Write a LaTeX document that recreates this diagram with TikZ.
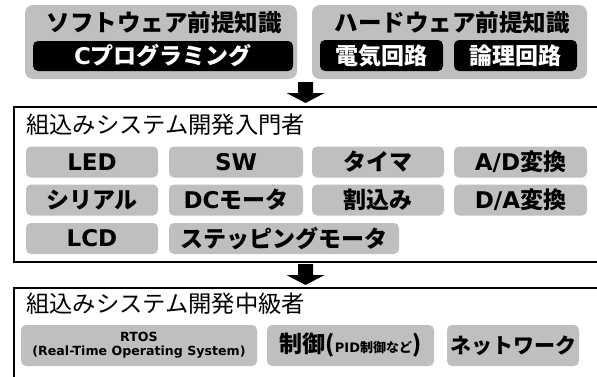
\documentclass[tikz,border=0pt]{standalone}
\usepackage{fontspec}
\newfontfamily\jp{Noto Sans CJK JP}
\newfontfamily\lat{DejaVu Sans}
\definecolor{gfill}{RGB}{191,191,191}
\tikzset{
  bigbox/.style={fill=gfill, rounded corners=8pt, inner sep=0pt},
  hdr/.style={inner sep=0pt, font=\jp\bfseries\fontsize{23.5}{26}\selectfont},
  blk/.style={fill=black, rounded corners=5pt, inner sep=0pt, text=white, font=\jp\bfseries\fontsize{23}{26}\selectfont},
  gb/.style={fill=gfill, rounded corners=5pt, inner sep=0pt, font=\jp\bfseries\fontsize{23}{26}\selectfont},
  frm/.style={draw=black, line width=2pt, inner sep=0pt},
  ttl/.style={anchor=west, inner sep=0pt, font=\jp\fontsize{23.3}{26}\selectfont},
}
\newcommand{\LT}[1]{{\lat\bfseries #1}}
\newcommand{\blockarrow}[1]{\fill (#1) ++(-7.5,0) -- ++(15,0) -- ++(0,11) -- ++(11.5,0) -- ++(-19,10) -- ++(-19,-10) -- ++(11.5,0) -- cycle;}
\begin{document}
\begin{tikzpicture}[x=1pt,y=-1pt]
\useasboundingbox (0,0) rectangle (597,376);
% top prerequisite boxes
\node[bigbox, minimum width=272pt, minimum height=74pt] (sw) at (161,42) {};
\node[hdr] (swt) at (164,23) {ソフトウェア前提知識};
\node[blk, minimum width=260pt, minimum height=30pt] (cprog) at (163,56) {\LT{C}プログラミング};
\node[bigbox, minimum width=275pt, minimum height=74pt] (hw) at (449.5,42) {};
\node[hdr] (hwt) at (452,23) {ハードウェア前提知識};
\node[blk, minimum width=123pt, minimum height=31pt] (elec) at (381.5,55.5) {電気回路};
\node[blk, minimum width=123pt, minimum height=31pt] (logic) at (515.5,55.5) {論理回路};
% arrow 1
\coordinate (a1) at (305.5,82);
\blockarrow{a1}
% middle frame
\node[frm, minimum width=585pt, minimum height=155pt] (mid) at (306.5,184.5) {};
\node[ttl] (midt) at (26,125) {組込みシステム開発入門者};
\node[gb, minimum width=132pt, minimum height=31pt] (led) at (92,162) {\LT{LED}};
\node[gb, minimum width=134pt, minimum height=31pt] (swi) at (236,162) {\LT{SW}};
\node[gb, minimum width=132pt, minimum height=31pt] (timer) at (378,162) {タイマ};
\node[gb, minimum width=133pt, minimum height=31pt] (ad) at (520.5,162) {\LT{A/D}変換};
\node[gb, minimum width=132pt, minimum height=31pt] (ser) at (92,200) {シリアル};
\node[gb, minimum width=134pt, minimum height=31pt] (dc) at (236,200) {\LT{DC}モータ};
\node[gb, minimum width=132pt, minimum height=31pt] (intr) at (378,200) {割込み};
\node[gb, minimum width=133pt, minimum height=31pt] (da) at (520.5,200) {\LT{D/A}変換};
\node[gb, minimum width=132pt, minimum height=31pt] (lcd) at (92,238.5) {\LT{LCD}};
\node[gb, minimum width=230pt, minimum height=31pt] (step) at (284,238.5) {ステッピングモータ};
% arrow 2
\coordinate (a2) at (305.5,264);
\blockarrow{a2}
% bottom frame
\node[frm, minimum width=585pt, minimum height=92pt] (low) at (306.5,334) {};
\node[ttl] (lowt) at (26,304) {組込みシステム開発中級者};
\node[gb, minimum width=236pt, minimum height=41pt, align=center, font=\lat\bfseries\fontsize{12.6}{14}\selectfont] (rtos) at (139,345.5)
  {RTOS\\(Real-Time Operating System)};
\node[gb, minimum width=167pt, minimum height=41pt] (ctrl) at (350.5,345.5)
  {制御(\fontsize{13}{14}\selectfont\LT{PID}制御など\fontsize{23}{26}\selectfont)};
\node[gb, minimum width=132pt, minimum height=41pt, font=\jp\bfseries\fontsize{21}{24}\selectfont] (net) at (513,345.5) {ネットワーク};
\end{tikzpicture}
\end{document}
